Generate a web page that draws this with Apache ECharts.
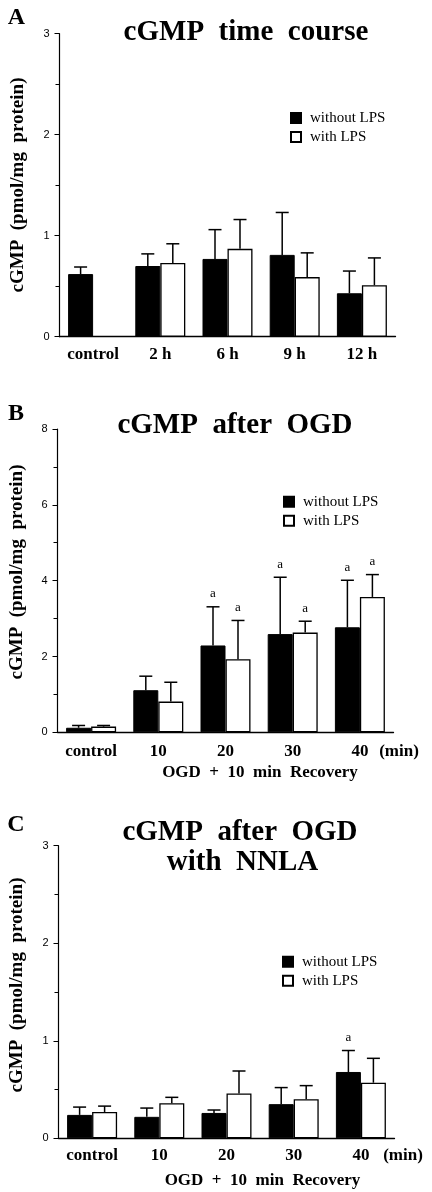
<!DOCTYPE html>
<html><head><meta charset="utf-8">
<script src="https://cdn.jsdelivr.net/npm/echarts@6/dist/echarts.min.js"></script>
<style>html,body{margin:0;padding:0;background:#fff}#c{width:432px;height:1192px}</style>
</head><body><div id="c"></div>
<script>
// ---- Data ----
const legendNames = ['without LPS', 'with LPS'];

const catsA = ['control', '2 h', '6 h', '9 h', '12 h'];
const withoutA = [0.62, 0.70, 0.77, 0.81, 0.43];
const withoutSdA = [0.07, 0.12, 0.29, 0.42, 0.22];
const withA = [null, 0.73, 0.87, 0.59, 0.51];
const withSdA = [null, 0.19, 0.29, 0.24, 0.27];

const catsB = ['control', '10', '20', '30', '40'];
const withoutB = [0.12, 1.11, 2.29, 2.59, 2.77];
const withoutSdB = [0.06, 0.37, 1.02, 1.50, 1.24];
const withoutSigB = [0, 0, 1, 1, 1];
const withB = [0.15, 0.81, 1.93, 2.63, 3.57];
const withSdB = [0.03, 0.51, 1.02, 0.30, 0.59];
const withSigB = [0, 0, 1, 1, 1];

const catsC = ['control', '10', '20', '30', '40'];
const withoutC = [0.24, 0.22, 0.26, 0.35, 0.68];
const withoutSdC = [0.08, 0.09, 0.03, 0.17, 0.22];
const withoutSigC = [0, 0, 0, 0, 1];
const withC = [0.27, 0.36, 0.46, 0.40, 0.57];
const withSdC = [0.06, 0.06, 0.23, 0.14, 0.25];
const withSigC = [0, 0, 0, 0, 0];

const yMaxA = 3, yIntA = 1;
const yMaxB = 8, yIntB = 2;
const yMaxC = 3, yIntC = 1;

// ---- Styling ----
const SERIF = '"Liberation Serif","Times New Roman",serif';
const SANS = '"Liberation Sans",Arial,sans-serif';
const GAP = 0.256;

const chart = echarts.init(document.getElementById('c'));

function errSeries(g, side, means, sds, sigs) {
  const data = [];
  means.forEach((m, i) => { if (m != null) data.push([i, m, sds[i], sigs ? sigs[i] : 0]); });
  return {
    type: 'custom', xAxisIndex: g, yAxisIndex: g, z: 5, silent: true,
    data: data,
    renderItem: function (params, api) {
      const i = api.value(0), m = api.value(1), sd = api.value(2), sig = api.value(3);
      const band = api.size([1, 0])[0];
      const bw = band * (1 - GAP) / 2;
      const base = api.coord([i, m]);
      const top = api.coord([i, m + sd]);
      const x = base[0] + side * bw / 2;
      const cw = bw * 0.26;
      const ch = [
        { type: 'line', shape: { x1: x, y1: base[1], x2: x, y2: top[1] }, style: { stroke: '#000', lineWidth: 1.5 } },
        { type: 'line', shape: { x1: x - cw, y1: top[1], x2: x + cw, y2: top[1] }, style: { stroke: '#000', lineWidth: 1.5 } }
      ];
      if (sig) ch.push({ type: 'text', style: { text: 'a', x: x, y: top[1] - 13, align: 'center', verticalAlign: 'middle', textAlign: 'center', textVerticalAlign: 'middle', font: '13px ' + SERIF, fill: '#000' } });
      return { type: 'group', children: ch };
    }
  };
}

function barPair(g, wo, wi) {
  return [
    { type: 'bar', name: legendNames[0], xAxisIndex: g, yAxisIndex: g, data: wo, barGap: '0%', barCategoryGap: (GAP * 100) + '%',
      itemStyle: { color: '#000', borderColor: '#000', borderWidth: 1 }, silent: true },
    { type: 'bar', name: legendNames[1], xAxisIndex: g, yAxisIndex: g, data: wi.map(v => v == null ? '-' : v), barGap: '0%', barCategoryGap: (GAP * 100) + '%',
      itemStyle: { color: '#fff', borderColor: '#000', borderWidth: 1.3 }, silent: true }
  ];
}

function xAx(g, cats, margin) {
  return { type: 'category', gridIndex: g, data: cats,
    axisTick: { show: false },
    axisLine: { lineStyle: { color: '#000', width: 1.3 } },
    axisLabel: { fontFamily: SERIF, fontWeight: 'bold', fontSize: 17, color: '#000', margin: margin } };
}
function yAx(g, max, interval) {
  return { type: 'value', gridIndex: g, min: 0, max: max, interval: interval,
    axisLine: { show: true, lineStyle: { color: '#000', width: 1.2 } },
    axisTick: { show: true, length: 5, lineStyle: { color: '#000', width: 1 } },
    minorTick: { show: true, splitNumber: 2, length: 4, lineStyle: { color: '#000', width: 1 } },
    splitLine: { show: false }, minorSplitLine: { show: false },
    axisLabel: { fontFamily: SANS, fontSize: 11, color: '#000', margin: 10 } };
}
function legendAt(left, top) {
  return { data: legendNames, orient: 'vertical', left: left, top: top, padding: 0, itemWidth: 10, itemHeight: 10, itemGap: 4,
    icon: 'rect', selectedMode: false,
    textStyle: { fontFamily: SERIF, fontSize: 15, color: '#000', padding: [0, 0, 0, 4] } };
}
function txt(text, x, y, size, bold, rot) {
  return { type: 'text', x: x, y: y, rotation: rot || 0, silent: true,
    style: { text: text, x: 0, y: 0, font: (bold ? 'bold ' : '') + size + 'px ' + SERIF, fill: '#000',
      align: 'center', verticalAlign: 'middle', textAlign: 'center', textVerticalAlign: 'middle' } };
}

const option = {
  animation: false,
  backgroundColor: '#fff',
  grid: [
    { left: 59.5, top: 33.7, width: 336, height: 303 },
    { left: 57.5, top: 429, width: 336, height: 303.3 },
    { left: 58.5, top: 845.7, width: 336, height: 292.6 }
  ],
  xAxis: [xAx(0, catsA, 9), xAx(1, catsB, 11), xAx(2, catsC, 9)],
  yAxis: [yAx(0, yMaxA, yIntA), yAx(1, yMaxB, yIntB), yAx(2, yMaxC, yIntC)],
  legend: [legendAt(290, 110.5), legendAt(283, 494.2), legendAt(282, 954.2)],
  series: [].concat(
    barPair(0, withoutA, withA),
    [errSeries(0, -1, withoutA, withoutSdA, null), errSeries(0, 1, withA, withSdA, null)],
    barPair(1, withoutB, withB),
    [errSeries(1, -1, withoutB, withoutSdB, withoutSigB), errSeries(1, 1, withB, withSdB, withSigB)],
    barPair(2, withoutC, withC),
    [errSeries(2, -1, withoutC, withoutSdC, withoutSigC), errSeries(2, 1, withC, withSdC, withSigC)]
  ),
  graphic: { elements: [
    txt('A', 16.5, 18, 24, true),
    txt('B', 16, 414, 24, true),
    txt('C', 16, 825, 24, true),
    txt('cGMP  time  course', 246, 32.5, 29, true),
    txt('cGMP  after  OGD', 235, 426, 29, true),
    txt('cGMP  after  OGD', 240, 832.5, 29, true),
    txt('with  NNLA', 242.5, 862.5, 29, true),
    txt('cGMP  (pmol/mg  protein)', 18, 185, 19, true, Math.PI / 2),
    txt('cGMP  (pmol/mg  protein)', 17, 572, 19, true, Math.PI / 2),
    txt('cGMP  (pmol/mg  protein)', 17, 985, 19, true, Math.PI / 2),
    txt('(min)', 399, 751.7, 17, true),
    txt('(min)', 403, 1155.8, 17, true),
    txt('OGD  +  10  min  Recovery', 260, 773, 17, true),
    txt('OGD  +  10  min  Recovery', 262.5, 1181, 17, true)
  ] }
};
chart.setOption(option);
</script>
</body></html>
